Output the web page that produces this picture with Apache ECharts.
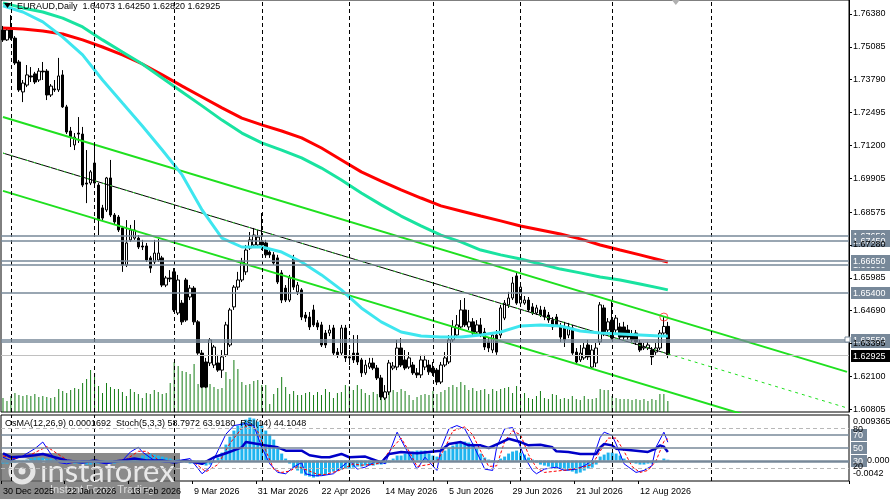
<!DOCTYPE html>
<html><head><meta charset="utf-8">
<script src="https://cdn.jsdelivr.net/npm/echarts@6/dist/echarts.min.js"></script>
<style>html,body{margin:0;padding:0;background:#fff}#c{width:890px;height:499px}</style>
</head><body><div id="c"></div>
<script>
// ---------------- DATA ----------------
const symbolName = "EURAUD,Daily";
const opens = [1.7575,1.7536,1.7575,1.7543,1.7449,1.7331,1.7358,1.7394,1.7402,1.7378,
1.7413,1.7413,1.7319,1.7343,1.7339,1.7398,1.7272,1.7177,1.7122,1.7169,
1.7165,1.6972,1.6972,1.7051,1.6964,1.6874,1.6866,1.6992,1.6846,1.6838,
1.6795,1.6649,1.6748,1.6755,1.6755,1.6724,1.6724,1.6677,1.6661,1.6669,
1.6677,1.6570,1.6598,1.6622,1.6460,1.6499,1.6590,1.6523,1.6558,1.6425,
1.6302,1.6267,1.6263,1.6255,1.6263,1.6235,1.6295,1.6334,1.6484,1.6562,
1.6590,1.6622,1.6716,1.6728,1.6728,1.6740,1.6736,1.6700,1.6689,1.6677,
1.6618,1.6558,1.6511,1.6677,1.6543,1.6551,1.6452,1.6444,1.6472,1.6421,
1.6413,1.6381,1.6381,1.6401,1.6306,1.6302,1.6401,1.6287,1.6302,1.6302,
1.6275,1.6224,1.6247,1.6263,1.6243,1.6204,1.6125,1.6149,1.6243,1.6247,
1.6322,1.6275,1.6247,1.6255,1.6224,1.6216,1.6247,1.6255,1.6243,1.6235,
1.6188,1.6255,1.6267,1.6354,1.6373,1.6405,1.6472,1.6405,1.6425,1.6385,
1.6413,1.6385,1.6346,1.6314,1.6373,1.6373,1.6440,1.6492,1.6519,1.6606,
1.6499,1.6499,1.6511,1.6484,1.6460,1.6472,1.6472,1.6452,1.6432,1.6444,
1.6405,1.6405,1.6373,1.6401,1.6306,1.6275,1.6283,1.6334,1.6247,1.6263,
1.6346,1.6480,1.6393,1.6432,1.6393,1.6405,1.6405,1.6393,1.6373,1.6381,
1.6342,1.6322,1.6322,1.6314,1.6306,1.6322,1.6381,1.64073];
const closes = [1.7536,1.7575,1.7543,1.7445,1.7339,1.7366,1.7398,1.7390,1.7370,1.7413,
1.7410,1.7319,1.7354,1.7339,1.7394,1.7272,1.7173,1.7153,1.7153,1.7165,
1.6964,1.6968,1.7016,1.6972,1.6826,1.6834,1.6992,1.6846,1.6819,1.6787,
1.6649,1.6736,1.6787,1.6787,1.6720,1.6720,1.6669,1.6637,1.6696,1.6696,
1.6570,1.6598,1.6594,1.6472,1.6590,1.6425,1.6432,1.6558,1.6425,1.6302,
1.6168,1.6168,1.6354,1.6326,1.6235,1.6287,1.6413,1.6472,1.6562,1.6590,
1.6661,1.6708,1.6748,1.6767,1.6759,1.6728,1.6689,1.6689,1.6657,1.6582,
1.6511,1.6511,1.6598,1.6562,1.6570,1.6444,1.6440,1.6405,1.6413,1.6405,
1.6334,1.6334,1.6393,1.6302,1.6295,1.6401,1.6283,1.6283,1.6275,1.6267,
1.6224,1.6255,1.6263,1.6243,1.6204,1.6129,1.6149,1.6263,1.6251,1.6322,
1.6255,1.6243,1.6283,1.6224,1.6216,1.6275,1.6275,1.6228,1.6224,1.6188,
1.6255,1.6283,1.6354,1.6405,1.6413,1.6472,1.6413,1.6425,1.6381,1.6413,
1.6373,1.6326,1.6322,1.6373,1.6306,1.6480,1.6499,1.6519,1.6578,1.6499,
1.6562,1.6511,1.6472,1.6460,1.6480,1.6452,1.6444,1.6432,1.6405,1.6413,
1.6365,1.6354,1.6405,1.6302,1.6267,1.6302,1.6322,1.6287,1.6314,1.6322,
1.6492,1.6381,1.6425,1.6361,1.6440,1.6365,1.6365,1.6365,1.6354,1.6346,
1.6314,1.6326,1.6334,1.6287,1.6322,1.6381,1.6407,1.62925];
const lows = [1.7528,1.7532,1.7536,1.7437,1.7331,1.7291,1.7350,1.7370,1.7362,1.7370,
1.7378,1.7299,1.7311,1.7331,1.7331,1.7268,1.7165,1.7114,1.7102,1.7130,
1.6956,1.6893,1.6964,1.6964,1.6767,1.6826,1.6858,1.6838,1.6807,1.6779,
1.6622,1.6641,1.6740,1.6748,1.6712,1.6708,1.6661,1.6618,1.6653,1.6661,
1.6562,1.6562,1.6582,1.6464,1.6452,1.6413,1.6425,1.6511,1.6413,1.6295,
1.6164,1.6164,1.6251,1.6243,1.6228,1.6204,1.6287,1.6326,1.6472,1.6551,
1.6582,1.6610,1.6708,1.6720,1.6716,1.6708,1.6677,1.6677,1.6649,1.6574,
1.6499,1.6503,1.6503,1.6551,1.6531,1.6432,1.6425,1.6393,1.6405,1.6393,
1.6326,1.6322,1.6369,1.6291,1.6283,1.6291,1.6267,1.6255,1.6263,1.6255,
1.6208,1.6216,1.6239,1.6235,1.6196,1.6117,1.6117,1.6137,1.6235,1.6235,
1.6247,1.6235,1.6239,1.6216,1.6204,1.6204,1.6235,1.6216,1.6212,1.6176,
1.6180,1.6247,1.6259,1.6346,1.6365,1.6393,1.6405,1.6393,1.6373,1.6373,
1.6365,1.6314,1.6306,1.6302,1.6295,1.6361,1.6432,1.6480,1.6511,1.6492,
1.6492,1.6492,1.6464,1.6452,1.6452,1.6444,1.6432,1.6421,1.6393,1.6405,
1.6346,1.6326,1.6361,1.6295,1.6255,1.6267,1.6275,1.6275,1.6243,1.6247,
1.6334,1.6369,1.6381,1.6354,1.6381,1.6354,1.6354,1.6354,1.6342,1.6334,
1.6306,1.6314,1.6314,1.6255,1.6295,1.6314,1.6373,1.62820];
const highs = [1.7591,1.7583,1.7634,1.7551,1.7457,1.7378,1.7437,1.7429,1.7410,1.7425,
1.7449,1.7421,1.7362,1.7378,1.7465,1.7417,1.7280,1.7193,1.7169,1.7232,
1.7193,1.7102,1.7023,1.7122,1.6972,1.6886,1.6996,1.7063,1.6854,1.6846,
1.6803,1.6826,1.6807,1.6826,1.6767,1.6748,1.6736,1.6685,1.6748,1.6752,
1.6685,1.6606,1.6629,1.6637,1.6610,1.6511,1.6598,1.6570,1.6566,1.6432,
1.6314,1.6283,1.6361,1.6334,1.6295,1.6314,1.6425,1.6480,1.6570,1.6622,
1.6677,1.6728,1.6779,1.6795,1.6787,1.6854,1.6748,1.6716,1.6700,1.6689,
1.6629,1.6570,1.6610,1.6689,1.6582,1.6558,1.6464,1.6464,1.6492,1.6432,
1.6425,1.6393,1.6413,1.6413,1.6322,1.6413,1.6413,1.6314,1.6373,1.6373,
1.6283,1.6275,1.6283,1.6283,1.6255,1.6216,1.6176,1.6275,1.6267,1.6354,
1.6361,1.6314,1.6306,1.6267,1.6243,1.6295,1.6295,1.6275,1.6267,1.6243,
1.6267,1.6306,1.6373,1.6432,1.6452,1.6511,1.6519,1.6472,1.6440,1.6432,
1.6440,1.6401,1.6361,1.6385,1.6393,1.6492,1.6511,1.6543,1.6602,1.6622,
1.6578,1.6527,1.6523,1.6499,1.6492,1.6488,1.6484,1.6464,1.6444,1.6456,
1.6421,1.6425,1.6421,1.6413,1.6322,1.6334,1.6342,1.6354,1.6334,1.6342,
1.6503,1.6492,1.6440,1.6511,1.6452,1.6421,1.6425,1.6413,1.6393,1.6393,
1.6354,1.6342,1.6346,1.6326,1.6342,1.6393,1.6444,1.64250];
// tick volume (hundreds)
const volumes = [14,11,16,19,17,16,17,16,18,15,16,15,14,15,23,21,19,22,24,23,29,33,42,39,26,19,29,25,23,23,20,16,23,20,18,14,19,18,22,20,18,19,29,
50,46,41,40,38,48,28,43,36,28,25,23,24,40,33,52,43,30,27,28,31,32,27,27,8,18,24,35,25,18,21,17,17,19,20,17,20,17,23,20,14,19,20,
27,26,22,27,23,19,17,20,18,25,21,28,22,20,23,21,17,12,15,17,18,17,21,18,20,22,25,27,25,30,27,22,24,21,22,23,18,23,21,23,24,25,
19,26,14,19,14,13,16,21,14,13,18,17,13,14,13,16,13,12,16,13,13,14,23,22,22,16,14,13,13,13,12,13,12,13,11,13,12,18,18,11];
const maRed = [[0,1.7583],[5,1.7579],[10,1.7571],[15,1.7559],[20,1.7536],[25,1.7508],[30,1.7477],[35,1.7441],[40,1.7398],[45,1.7354],[50,1.7311],[55,1.7268],[60,1.7228],[65,1.7201],[70,1.7177],[75,1.7150],[80,1.7110],[85,1.7063],[90,1.7016],[95,1.6980],[100,1.6945],[105,1.6913],[110,1.6882],[115,1.6862],[120,1.6842],[125,1.6823],[130,1.6803],[135,1.6787],[140,1.6771],[145,1.6752],[150,1.6728],[155,1.6708],[160,1.6689],[165,1.6669],[167,1.6661]];
const maGreen = [[0,1.7682],[5,1.7662],[10,1.7646],[15,1.7622],[20,1.7587],[25,1.7536],[30,1.7488],[35,1.7441],[40,1.7386],[45,1.7331],[50,1.7276],[55,1.7220],[60,1.7169],[65,1.7130],[70,1.7102],[75,1.7071],[80,1.7031],[85,1.6984],[90,1.6933],[95,1.6886],[100,1.6842],[105,1.6803],[110,1.6767],[115,1.6740],[120,1.6708],[125,1.6689],[130,1.6673],[135,1.6653],[140,1.6633],[145,1.6618],[150,1.6602],[155,1.6590],[160,1.6574],[165,1.6558],[167,1.6551]];
const maCyan = [[0,1.7670],[5,1.7646],[10,1.7607],[15,1.7547],[20,1.7477],[25,1.7378],[30,1.7287],[35,1.7197],[40,1.7102],[45,1.7004],[50,1.6866],[55,1.6755],[60,1.6720],[65,1.6720],[70,1.6700],[75,1.6661],[80,1.6610],[85,1.6551],[90,1.6480],[95,1.6425],[100,1.6385],[105,1.6369],[110,1.6365],[115,1.6365],[120,1.6373],[125,1.6385],[130,1.6409],[135,1.6413],[140,1.6409],[145,1.6389],[150,1.6381],[155,1.6377],[160,1.6373],[165,1.6369],[167,1.6369]];
const channelUpper = [[0,1.7232],[212,1.6228]];
const channelMid = [[0,1.7090],[167,1.6299]];
const channelMidExt = [[167,1.6299],[212,1.6086]];
const channelLower = [[0,1.6941],[212,1.5937]];
const levelsBack = [1.6765,1.6650,1.6345];
const levelsFront = [1.6745,1.6665,1.6540,1.6355];
const yTicks = [1.76380,1.75085,1.73790,1.72495,1.71200,1.69905,1.68575,1.67280,1.65985,1.64690,1.63395,1.62100,1.60805];
const monthSeparators = [2,23,43,65,87,108,130,153,178];
const shiftMarkerIndex = 169;
const osma = [-0.00062,-0.00062,-0.00041,-0.00041,-0.00021,-0.00021,0.00021,0.00041,0.00062,0.00062,
0.00062,0.00041,0.00041,0.00021,0,-0.00021,-0.00041,-0.00041,-0.00062,-0.00062,
-0.00062,-0.00082,-0.00082,-0.00062,-0.00062,-0.00041,-0.00041,-0.00062,-0.00062,-0.00041,
-0.00041,-0.00021,0.00021,0.00041,0.00062,0.00103,0.00123,0.00144,0.00123,0.00103,
0.00082,0.00062,0.00041,0.00021,0.00021,-0.00021,-0.00041,-0.00062,-0.00062,-0.00041,
-0.00082,-0.00103,-0.00082,-0.00041,0.00062,0.00164,0.00329,0.00493,0.00616,0.00719,
0.0078,0.00842,0.00883,0.00863,0.00801,0.00719,0.00616,0.00534,0.00431,0.00267,
0.00144,0.00041,-0.00062,-0.00144,-0.00205,-0.00267,-0.00308,-0.00329,-0.00349,-0.00329,
-0.00308,-0.00288,-0.00246,-0.00226,-0.00205,-0.00185,-0.00164,-0.00164,-0.00144,-0.00123,
-0.00123,-0.00103,-0.00103,-0.00103,-0.00082,-0.00082,-0.00062,-0.00041,0.00041,0.00103,
0.00103,0.00144,0.00164,0.00185,0.00205,0.00205,0.00205,0.00144,0.00103,0.00082,
0.00144,0.00205,0.00267,0.00308,0.00349,0.0037,0.0039,0.0037,0.00349,0.00246,
0.00144,0.00062,0.00021,-0.00021,0,0.00041,0.00082,0.00144,0.00185,0.00205,
0.00164,0.00123,0.00062,0.00021,-0.00041,-0.00082,-0.00103,-0.00123,-0.00144,-0.00144,
-0.00164,-0.00185,-0.00205,-0.00226,-0.00267,-0.00246,-0.00205,-0.00164,-0.00144,-0.00082,
0.00082,0.00123,0.00164,0.00164,0.00144,0.00103,0.00041,0,-0.00041,-0.00062,
-0.00082,-0.00082,-0.00062,-0.00062,-0.00041,0,0.00041,0.00017];
const stochMain = [[0,36],[2,31],[5,38],[8,49],[10,59],[12,41],[14,28],[16,26],[20,31],[23,29],[26,26],[30,31],[32,44],[34,51],[35,44],[38,31],[41,28],[44,31],[47,34],[50,11],[52,21],[54,46],[56,71],[58,84],[61,87],[63,84],[65,51],[67,26],[69,13],[71,11],[73,21],[75,28],[76,11],[78,8],[80,8],[83,11],[85,21],[87,31],[89,18],[91,21],[94,31],[96,26],[99,74],[101,51],[104,18],[106,36],[109,16],[110,49],[112,79],[114,84],[116,79],[118,56],[120,31],[121,18],[123,16],[124,51],[126,79],[128,81],[129,66],[131,36],[133,16],[134,11],[136,18],[139,21],[141,16],[144,18],[146,23],[148,31],[150,66],[151,74],[153,69],[154,56],[156,26],[159,13],[161,16],[163,23],[164,51],[166,74],[167,58.8]];
const stochSignal = [[0,38],[3,34],[7,40],[11,52],[14,40],[17,28],[21,28],[24,30],[27,28],[31,33],[34,45],[36,45],[39,32],[42,28],[45,30],[48,28],[51,14],[54,25],[57,57],[60,80],[62,85],[64,75],[66,46],[68,18],[70,13],[72,15],[74,22],[77,15],[79,10],[81,10],[84,15],[86,20],[88,26],[90,24],[93,25],[95,28],[97,45],[100,65],[102,45],[104,22],[107,25],[109,30],[111,50],[113,76],[116,82],[118,70],[120,45],[122,22],[124,23],[126,60],[128,76],[130,70],[132,40],[134,20],[136,13],[139,15],[142,17],[145,20],[148,25],[150,45],[152,65],[154,65],[156,45],[158,22],[160,13],[162,16],[164,30],[166,60],[167,63.9]];
const rsi = [[0,42],[2,36],[5,37],[8,39],[10,41],[13,36],[16,31],[20,28],[23,31],[26,28],[30,31],[33,34],[36,31],[40,31],[43,28],[46,31],[50,26],[53,36],[56,42],[60,51],[61,59],[64,56],[66,54],[69,51],[71,46],[75,46],[77,39],[80,36],[82,36],[85,41],[87,36],[91,37],[95,28],[97,41],[100,44],[104,42],[107,44],[110,46],[112,56],[115,59],[117,54],[120,54],[122,50],[125,58],[127,64],[130,59],[132,54],[135,55],[138,51],[139,45],[142,44],[145,41],[149,41],[150,51],[151,56],[153,54],[154,49],[159,46],[162,44],[164,49],[165,54],[166,52],[167,44.1]];
const oscLevels = [80,70,50,30,20];
const oscHeader = "OsMA(12,26,9) 0.0001692  Stoch(5,3,3) 58.7972 63.9180  RSI(14) 44.1048";
const osmaRange = [-0.0042, 0.009365];

// -------- categories (trading days) --------
const M = ['Jan','Feb','Mar','Apr','May','Jun','Jul','Aug','Sep','Oct','Nov','Dec'];
const categories = [];
{ let d = new Date(Date.UTC(2025,11,30));
  while (categories.length < 213) {
    const wd = d.getUTCDay();
    const skip = wd===0 || wd===6 || (d.getUTCMonth()===0 && d.getUTCDate()===1);
    if (!skip) categories.push(d.getUTCDate()+' '+M[d.getUTCMonth()]+' '+d.getUTCFullYear());
    d.setUTCDate(d.getUTCDate()+1);
  } }

// -------- CHART --------
const F = "'Liberation Sans', Arial, sans-serif";
const LV = '#778899';
const chart = echarts.init(document.getElementById('c'));
const labelIdx = (i) => i % 16 === 0 && i <= 167;
const sepMark = {silent:true, symbol:['none','none'], label:{show:false}, precision:0,
  lineStyle:{color:'#000', type:[4,3], width:1}, data: monthSeparators.map(i => ({xAxis: i})), animation:false};
const lastClose = closes[closes.length-1];
const levelLines = levelsBack.concat(levelsFront).map(v => ({yAxis:v, lineStyle:{color:LV, width:1.5, type:'solid'}}))
  .concat([{yAxis:lastClose, lineStyle:{color:'#c0c0c0', width:1, type:'solid'}}]);

const oscMarkData = oscLevels.map(v => {
  const dashed = (v===80 || v===20);
  return {yAxis: v, lineStyle: dashed ? {color:'#b8b8b8', type:[4,3], width:1} : {color:LV, type:'solid', width: v===30?2.5:1.5}};
});

const option = {
  animation:false, backgroundColor:'#fff',
  grid:[
    {left:1, top:0, width:848, height:412, show:true, borderColor:'#000', borderWidth:1, containLabel:false},
    {left:1, top:415, width:848, height:66, show:true, borderColor:'#000', borderWidth:1, containLabel:false}
  ],
  xAxis:[
    {type:'category', gridIndex:0, data:categories, boundaryGap:true, axisLine:{show:false}, axisTick:{show:false}, axisLabel:{show:false}, splitLine:{show:false}},
    {type:'category', gridIndex:1, data:categories, boundaryGap:true, axisLine:{show:false},
      axisTick:{show:true, interval:labelIdx, length:3, lineStyle:{color:'#000'}},
      axisLabel:{show:true, interval:labelIdx, align:'left', fontSize:9, fontFamily:F, color:'#000', margin:6}, splitLine:{show:false}}
  ],
  yAxis:[
    {type:'value', gridIndex:0, position:'right', min:1.60699, max:1.76932,
      axisLine:{show:true, lineStyle:{color:'#000'}},
      axisTick:{show:true, customValues:yTicks, length:3, lineStyle:{color:'#000'}},
      axisLabel:{show:true, customValues:yTicks, formatter:(v)=>Number(v).toFixed(5), fontSize:9, fontFamily:F, color:'#000', margin:4},
      splitLine:{show:false}},
    {type:'value', gridIndex:0, min:0, max:412, show:false, splitLine:{show:false}},
    {type:'value', gridIndex:1, min:0, max:100, show:false, splitLine:{show:false}},
    {type:'value', gridIndex:1, min:osmaRange[0], max:osmaRange[1], show:false, splitLine:{show:false}}
  ],
  series:[
    {name:'Volumes', type:'bar', xAxisIndex:0, yAxisIndex:1, data:volumes, barWidth:1, itemStyle:{color:'#157d15'}, silent:true, markLine:sepMark},
    {name:'EURAUD', type:'candlestick', xAxisIndex:0, yAxisIndex:0, barWidth:3,
      data: opens.map((o,i)=>[o, closes[i], lows[i], highs[i]]),
      itemStyle:{color:'#fff', color0:'#000', borderColor:'#000', borderColor0:'#000', borderWidth:1}},
    {type:'line', xAxisIndex:0, yAxisIndex:0, data:channelUpper, showSymbol:false, lineStyle:{color:'#1fe01f', width:2}, silent:true,
      markLine:{silent:true, symbol:['none','none'], precision:5, label:{show:false}, data:levelLines, animation:false}},
    {type:'line', xAxisIndex:0, yAxisIndex:0, data:channelLower, showSymbol:false, lineStyle:{color:'#1fe01f', width:2}, silent:true},
    {type:'line', xAxisIndex:0, yAxisIndex:0, data:channelMid, showSymbol:false, lineStyle:{color:'#000', width:1}, silent:true},
    {type:'line', xAxisIndex:0, yAxisIndex:0, data:channelMid, showSymbol:false, lineStyle:{color:'#2ee82e', width:1, type:[2,6]}, silent:true},
    {type:'line', xAxisIndex:0, yAxisIndex:0, data:channelMidExt, showSymbol:false, lineStyle:{color:'#1fe01f', width:1, type:[3,4]}, silent:true},
    {type:'line', xAxisIndex:0, yAxisIndex:0, data:maRed, showSymbol:false, lineStyle:{color:'#ff0000', width:3}, silent:true},
    {type:'line', xAxisIndex:0, yAxisIndex:0, data:maGreen, showSymbol:false, lineStyle:{color:'#19e3a0', width:3}, silent:true},
    {type:'line', xAxisIndex:0, yAxisIndex:0, data:maCyan, showSymbol:false, lineStyle:{color:'#3ee6ef', width:3}, silent:true},
    {type:'scatter', xAxisIndex:0, yAxisIndex:0, data:[[166, highs[166]]], symbol:'circle', symbolSize:8,
      itemStyle:{color:'rgba(255,255,255,0)', borderColor:'#ff2020', borderWidth:1}, silent:true},
    {name:'OsMA', type:'bar', xAxisIndex:1, yAxisIndex:3, data:osma, barWidth:3, itemStyle:{color:'#1fb4ef'}, silent:true, markLine:sepMark},
    {name:'Stoch', type:'line', xAxisIndex:1, yAxisIndex:2, data:stochMain, showSymbol:false, lineStyle:{color:'#0000ff', width:1}, silent:true,
      markLine:{silent:true, symbol:['none','none'], precision:2, label:{show:false}, data:oscMarkData, animation:false}},
    {name:'Signal', type:'line', xAxisIndex:1, yAxisIndex:2, data:stochSignal, showSymbol:false, lineStyle:{color:'#ff0000', width:1, type:[3,2]}, silent:true},
    {name:'RSI', type:'line', xAxisIndex:1, yAxisIndex:2, data:rsi, showSymbol:false, lineStyle:{color:'#0000c8', width:2.5}, silent:true}
  ]
};
chart.setOption(option);

// tags and texts that follow the axes
const px = (axis, v) => chart.convertToPixel({yAxisIndex:axis}, v);
const mkTag = (y, text, bg, z) => ({type:'group', z:z, children:[
  {type:'rect', shape:{x:851, y:Math.round(y)-6, width:39, height:12}, style:{fill:bg}},
  {type:'text', x:853, y:Math.round(y)+0.5, style:{text:text, font:'9px '+F, fill:'#fff', textVerticalAlign:'middle'}}
]});
const mkSmallTag = (y, text) => ({type:'group', z:60, children:[
  {type:'rect', shape:{x:851, y:Math.round(y)-6, width:16, height:12}, style:{fill:LV}},
  {type:'text', x:853, y:Math.round(y)+0.5, style:{text:text, font:'9px '+F, fill:'#fff', textVerticalAlign:'middle'}}
]});
const plainText = (x, y, text, z) => ({type:'text', x:x, y:y, z:z, style:{text:text, font:'9px '+F, fill:'#000', textVerticalAlign:'middle'}});
const n = opens.length - 1;
const headerText = symbolName + '  ' + opens[n].toFixed(5) + ' ' + highs[n].toFixed(5) + ' ' + lows[n].toFixed(5) + ' ' + closes[n].toFixed(5);
const g = [];
g.push({type:'polygon', z:100, shape:{points:[[4,3],[11,3],[7.5,8]]}, style:{fill:'#000'}});
g.push(plainText(17, 7, headerText, 100));
g.push(plainText(5, 424, oscHeader, 100));
const shiftX = chart.convertToPixel({xAxisIndex:0}, shiftMarkerIndex);
g.push({type:'polygon', z:100, shape:{points:[[shiftX-4,0],[shiftX+4,0],[shiftX,5]]}, style:{fill:'#b0b0b0'}});
levelsBack.forEach(v => g.push(mkTag(px(0,v), v.toFixed(5), LV, 50)));
levelsFront.forEach(v => g.push(mkTag(px(0,v), v.toFixed(5), LV, 51)));
g.push(mkTag(px(0,lastClose), lastClose.toFixed(5), '#000', 52));
g.push({type:'rect', z:53, shape:{x:845, y:Math.round(px(0,1.6355))-3, width:5, height:5}, style:{fill:'#fff', stroke:LV, lineWidth:1}});
// oscillator scale texts
g.push(plainText(853, px(2,80)+1, '80', 40));
g.push(plainText(853, px(2,20)-1, '20', 40));
g.push(plainText(853, px(3,osmaRange[1])+7, '0.009365', 41));
g.push(plainText(867, px(3,0), '0.000', 41));
g.push(plainText(853, px(3,osmaRange[0])-7, '-0.0042', 41));
[70,50,30].forEach(v => g.push(mkSmallTag(px(2,v), String(v))));
// watermark
g.push({type:'group', z:200, children:[
  {type:'rect', shape:{x:0, y:453, width:180, height:46}, style:{fill:'rgba(105,105,105,0.78)'}},
  {type:'circle', shape:{cx:22, cy:471, r:11}, style:{fill:'none', stroke:'rgba(235,235,235,0.95)', lineWidth:5}},
  {type:'circle', shape:{cx:22, cy:471, r:3.5}, style:{fill:'rgba(235,235,235,0.95)'}},
  {type:'text', x:40, y:472, style:{text:'instaforex', font:'31px Lato, '+F, fill:'rgba(238,238,238,0.95)', textVerticalAlign:'middle'}},
  {type:'text', x:50, y:490, style:{text:'Instant Forex Trading', font:'11px '+F, fill:'rgba(225,225,225,0.95)', textVerticalAlign:'middle'}}
]});
chart.setOption({graphic:g});
</script>
</body></html>
